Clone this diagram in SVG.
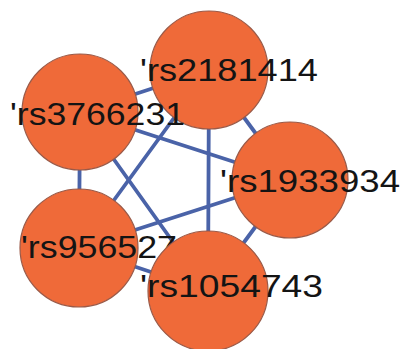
<svg xmlns="http://www.w3.org/2000/svg" width="402" height="349" viewBox="0 0 402 349">
  <style>
    .edge { stroke: #4a63a8; stroke-width: 3.8; stroke-linecap: round; fill: none; }
    .node circle { fill: #ef6a39; stroke: #9a5a48; stroke-width: 1.2; }
    .node text { font-family: "Liberation Sans", Arial, sans-serif; font-size: 32px; fill: #141414; }
  </style>
  <rect width="402" height="349" fill="#ffffff"/>
  <!-- connectors: every pair of nodes is linked -->
  <g id="edges">
    <line class="edge" x1="209" y1="70" x2="80" y2="112"/>
    <line class="edge" x1="209" y1="70" x2="290" y2="180"/>
    <line class="edge" x1="209" y1="70" x2="79" y2="248"/>
    <line class="edge" x1="209" y1="70" x2="208" y2="291"/>
    <line class="edge" x1="80" y1="112" x2="290" y2="180"/>
    <line class="edge" x1="80" y1="112" x2="79" y2="248"/>
    <line class="edge" x1="80" y1="112" x2="208" y2="291"/>
    <line class="edge" x1="290" y1="180" x2="79" y2="248"/>
    <line class="edge" x1="290" y1="180" x2="208" y2="291"/>
    <line class="edge" x1="79" y1="248" x2="208" y2="291"/>
  </g>
  <g id="rs2181414" class="node">
    <circle cx="209" cy="70" r="59"/>
    <text x="140" y="81" textLength="178" lengthAdjust="spacingAndGlyphs">'rs2181414</text>
  </g>
  <g id="rs3766231" class="node">
    <circle cx="80" cy="112" r="58"/>
    <text x="10" y="125" textLength="175" lengthAdjust="spacingAndGlyphs">'rs3766231</text>
  </g>
  <g id="rs1933934" class="node">
    <circle cx="290" cy="180" r="58"/>
    <text x="220" y="192" textLength="180" lengthAdjust="spacingAndGlyphs">'rs1933934</text>
  </g>
  <g id="rs956527" class="node">
    <circle cx="79" cy="248" r="59"/>
    <text x="21" y="258" textLength="156" lengthAdjust="spacingAndGlyphs">'rs956527</text>
  </g>
  <g id="rs1054743" class="node">
    <circle cx="208" cy="291" r="60"/>
    <text x="140" y="297" textLength="183" lengthAdjust="spacingAndGlyphs">'rs1054743</text>
  </g>
</svg>
